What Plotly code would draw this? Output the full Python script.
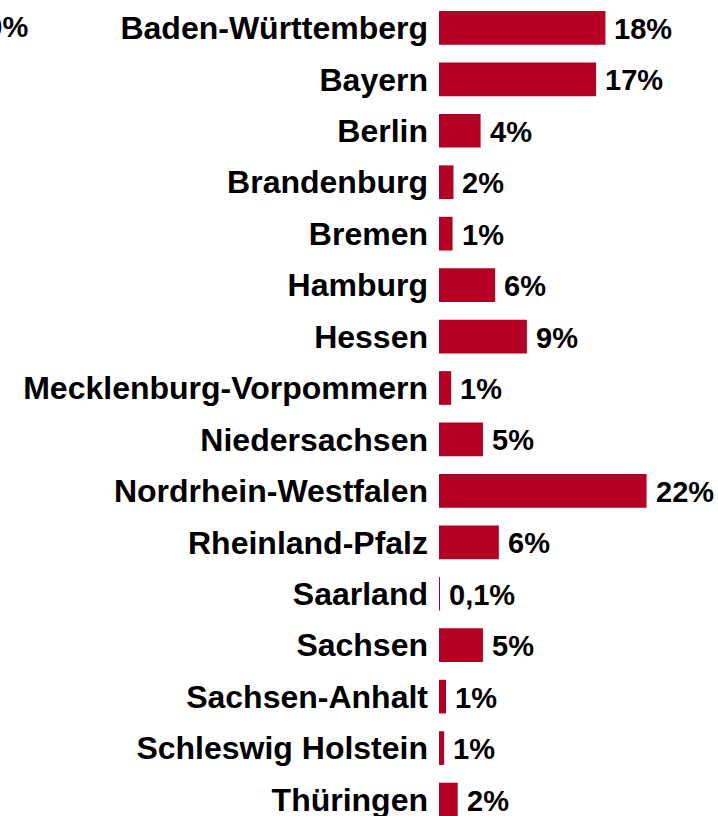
import plotly.graph_objects as go

# share per Bundesland
laender = ['Baden-Württemberg', 'Bayern', 'Berlin', 'Brandenburg', 'Bremen',
           'Hamburg', 'Hessen', 'Mecklenburg-Vorpommern', 'Niedersachsen',
           'Nordrhein-Westfalen', 'Rheinland-Pfalz', 'Saarland', 'Sachsen',
           'Sachsen-Anhalt', 'Schleswig Holstein', 'Thüringen']
anteil = [17.8, 16.8, 4.45, 1.55, 1.45, 6.0, 9.4, 1.3, 4.7,
          22.2, 6.4, 0.1, 4.7, 0.75, 0.55, 2.0]
labels = ['18%', '17%', '4%', '2%', '1%', '6%', '9%', '1%', '5%',
          '22%', '6%', '0,1%', '5%', '1%', '1%', '2%']

red = '#B40022'
font_name = 'Liberation Sans, Arial, sans-serif'

fig = go.Figure(go.Bar(
    x=anteil,
    y=laender,
    orientation='h',
    marker=dict(color=red, line=dict(width=0)),
    hoverinfo='skip',
))

# value labels to the right of each bar
for v, name, lab in zip(anteil, laender, labels):
    fig.add_annotation(x=v, y=name, text=lab, showarrow=False,
                       xanchor='left', xshift=7, yshift=-1,
                       font=dict(family=font_name, size=29, color='black', weight='bold'))

# cut-off label at the top left edge of the original picture
fig.add_annotation(xref='paper', yref='paper', x=(30 - 439) / 279, y=1 - 27 / 816,
                   text='100%', showarrow=False, xanchor='right', yanchor='middle',
                   font=dict(family=font_name, size=29, color='black', weight='bold'))

fig.update_layout(
    width=718, height=816,
    margin=dict(l=439, r=0, t=0, b=0, autoexpand=False),
    plot_bgcolor='white', paper_bgcolor='white',
    bargap=0.345,
    showlegend=False,
)
fig.update_xaxes(range=[0, 279 / 9.35], visible=False, showgrid=False, zeroline=False)
fig.update_yaxes(range=[15.32, -0.542], showgrid=False, zeroline=False,
                 showline=False, ticks='', ticklabelstandoff=10,
                 tickfont=dict(family=font_name, size=32, color='black', weight='bold'))

# no body margin, so the figure sits at the window's top-left corner
fig.write_html("out.html", config={'displayModeBar': False},
               post_script="document.body.style.margin='0';")
